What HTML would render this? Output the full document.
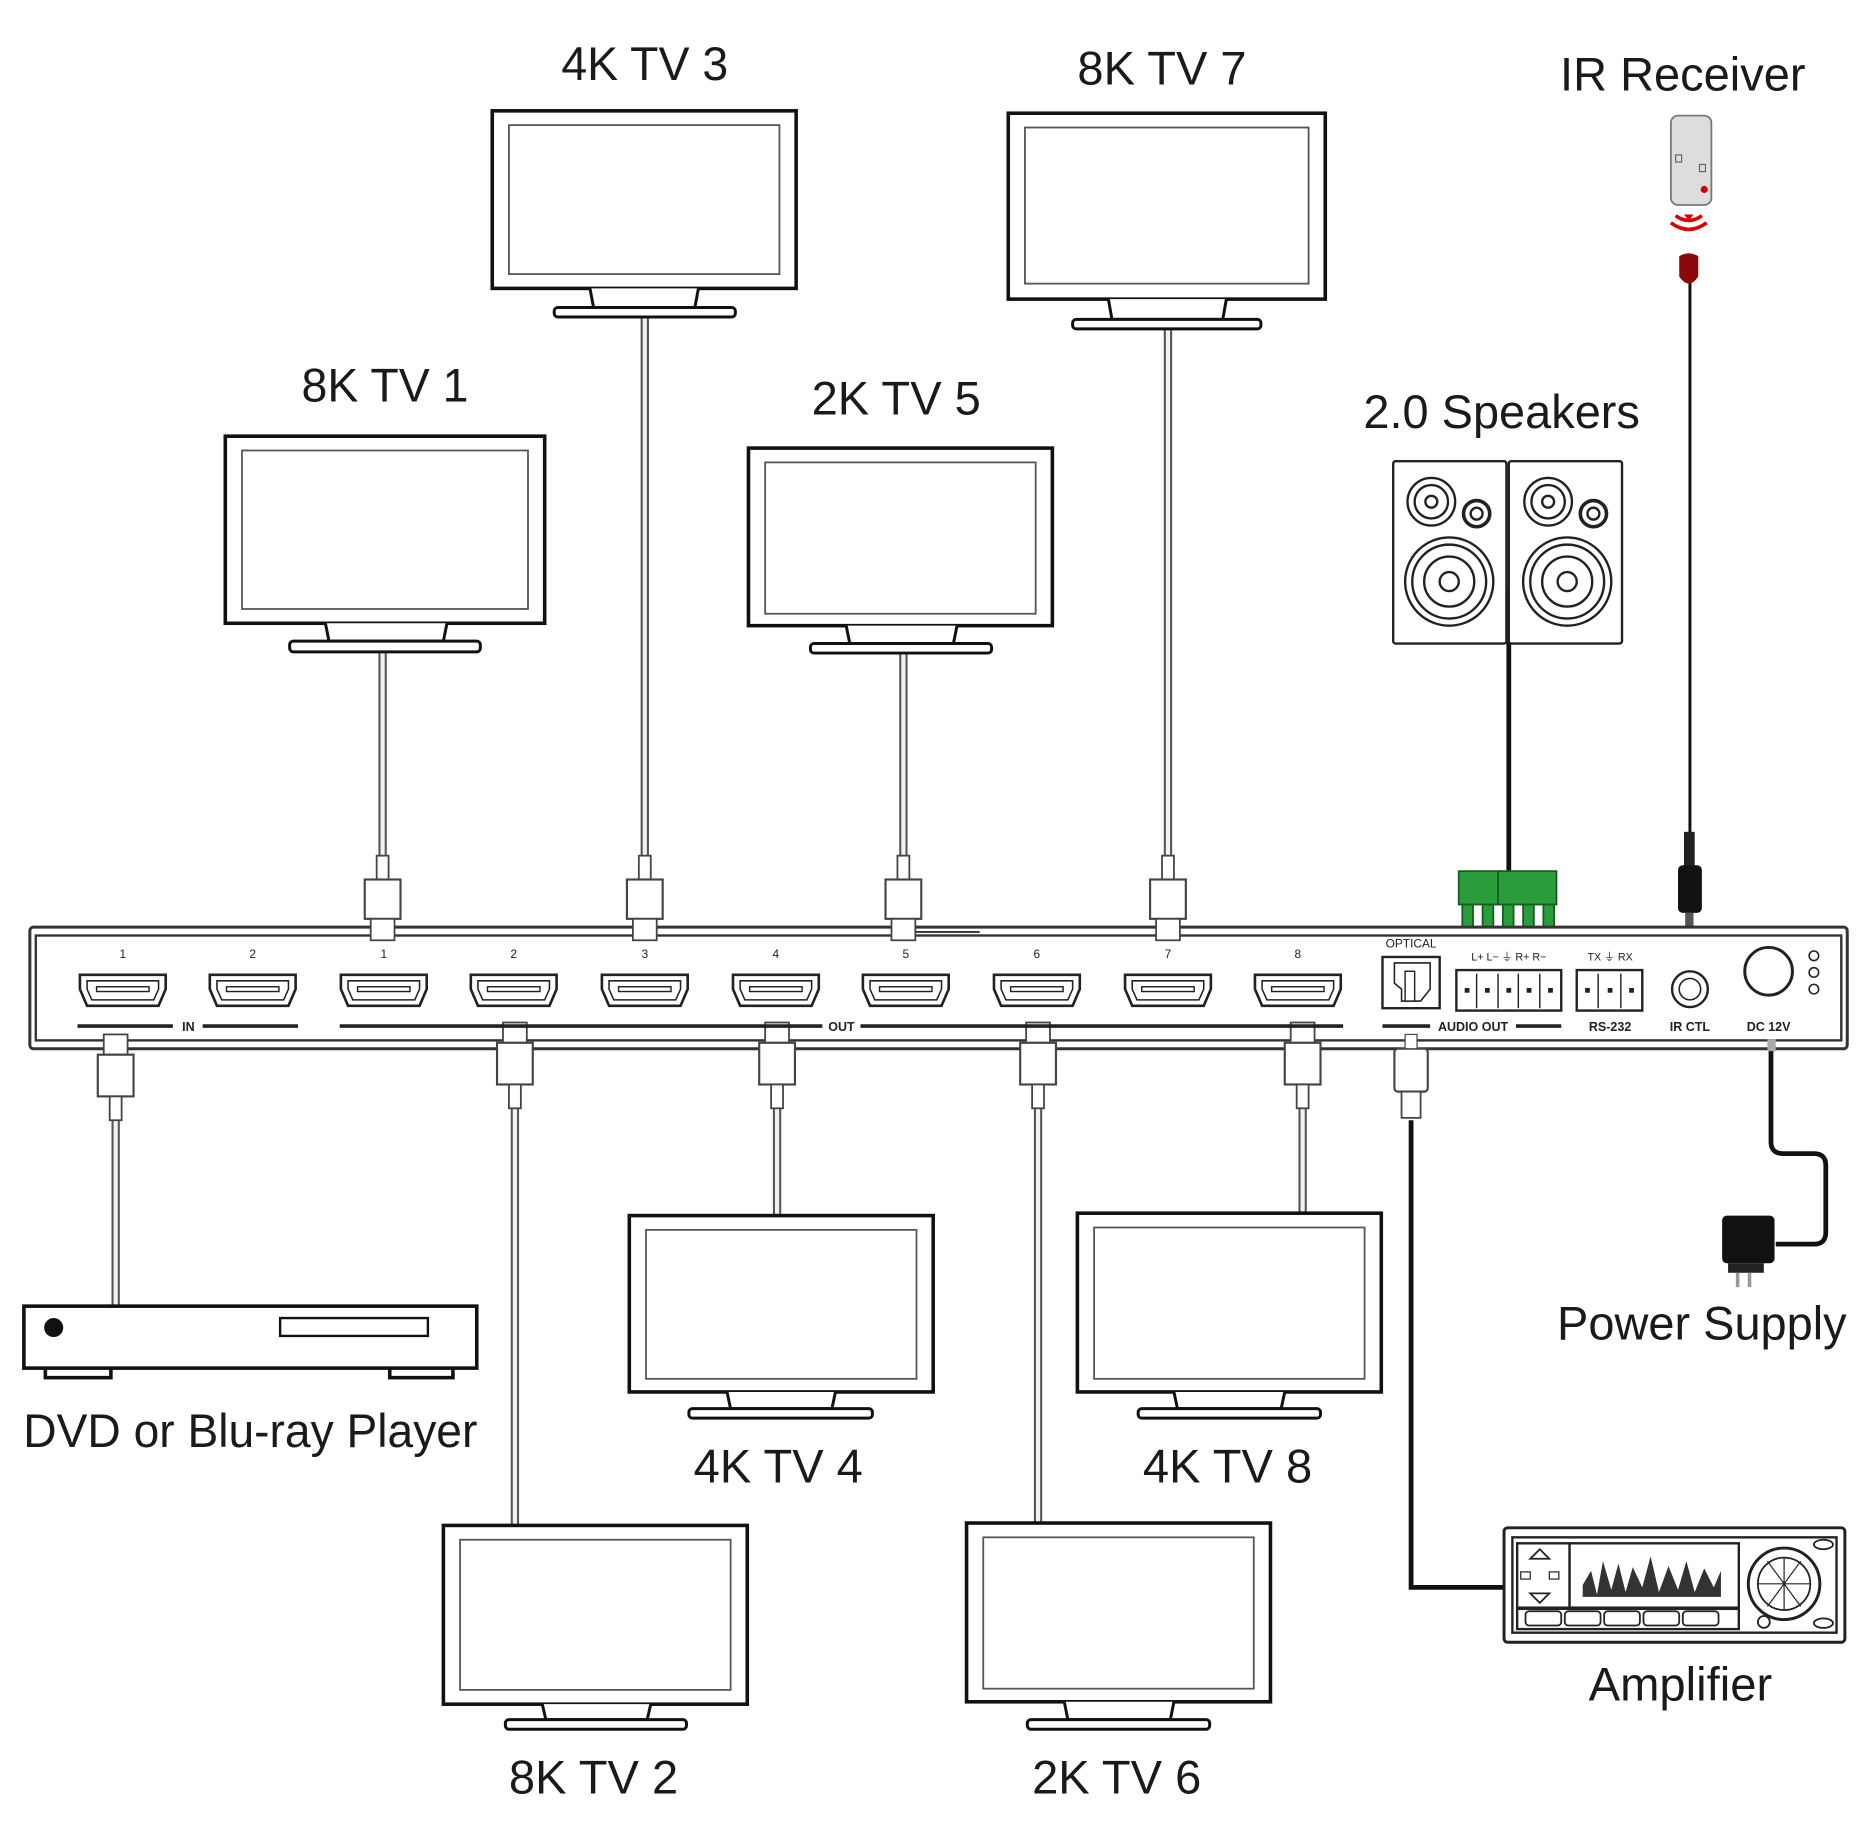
<!DOCTYPE html>
<html><head><meta charset="utf-8"><style>html,body{margin:0;padding:0;background:#fff}svg{display:block}</style></head><body>
<svg width="1864" height="1846" viewBox="0 0 1564 1549" xmlns="http://www.w3.org/2000/svg" font-family="Liberation Sans, Arial, sans-serif">
<defs>
<g id="hdmi"><path d="M-36,-12 L36,-12 L36,0 L30,14 L-30,14 L-36,0 Z" fill="#fff" stroke="#222" stroke-width="2.2"/><path d="M-30,-7 L30,-7 L30,0 L26,9 L-26,9 L-30,0 Z" fill="none" stroke="#222" stroke-width="1.3"/><rect x="-22" y="-2" width="44" height="4" fill="none" stroke="#222" stroke-width="1.2"/></g>
<g id="plugT"><rect x="-5" y="-2" width="10" height="20" fill="#fff" stroke="#444" stroke-width="1.5"/><rect x="-15" y="18" width="30" height="33" fill="#fff" stroke="#444" stroke-width="1.8"/><rect x="-10" y="51" width="20" height="18" fill="#fff" stroke="#444" stroke-width="1.5"/></g>
<g id="plugB"><rect x="-10" y="0" width="20" height="17" fill="#fff" stroke="#444" stroke-width="1.5"/><rect x="-15" y="17" width="30" height="35" fill="#fff" stroke="#444" stroke-width="1.8"/><rect x="-5" y="52" width="10" height="20" fill="#fff" stroke="#444" stroke-width="1.5"/></g>
</defs>
<g fill="none" stroke-linecap="butt">
<!-- light cables -->
<g stroke="#555" stroke-width="7">
<path d="M321,548V720M541,265V720M758,548V720M980,275V720M97,940V1095M432,928V1280M652,928V1020M871,928V1278M1093,928V1018"/>
</g>
<g stroke="#f2f2f2" stroke-width="3.5">
<path d="M321,548V720M541,265V720M758,548V720M980,275V720M97,940V1095M432,928V1280M652,928V1020M871,928V1278M1093,928V1018"/>
</g>
<!-- black cables -->
<path d="M1184,940V1332H1262" stroke="#111" stroke-width="4"/>
<path d="M1266,495V735" stroke="#111" stroke-width="4"/>
<path d="M1418,235V705" stroke="#111" stroke-width="2.5"/>
<path d="M1486,880V958Q1486,968 1496,968H1522Q1532,968 1532,978V1034Q1532,1044 1522,1044H1490" stroke="#111" stroke-width="4"/>
</g>
<!-- TVs -->
<g stroke="#111" fill="#fff">
<g stroke-width="3"><rect x="413" y="93" width="255" height="149"/><rect x="846" y="95" width="266" height="156"/><rect x="189" y="366" width="268" height="157"/><rect x="628" y="376" width="255" height="149"/><rect x="528" y="1020" width="255" height="148"/><rect x="904" y="1018" width="255" height="150"/><rect x="372" y="1280" width="255" height="150"/><rect x="811" y="1278" width="255" height="150"/></g>
<g stroke-width="1.5" stroke="#555"><rect x="427" y="105" width="227" height="125"/><rect x="860" y="107" width="238" height="131"/><rect x="203" y="378" width="240" height="133"/><rect x="642" y="388" width="227" height="127"/><rect x="542" y="1032" width="227" height="125"/><rect x="918" y="1030" width="227" height="127"/><rect x="386" y="1292" width="227" height="126"/><rect x="825" y="1290" width="227" height="127"/></g>
<g stroke-width="2.5"><path d="M495,242L498,258L583,258L586,242"/><rect x="465" y="258" width="152" height="8" rx="3"/>
<path d="M930,251L933,268L1026,268L1029,251"/><rect x="900" y="268" width="158" height="8" rx="3"/>
<path d="M273,523L276,538L372,538L375,523"/><rect x="243" y="538" width="160" height="9" rx="3"/>
<path d="M710,525L713,540L800,540L803,525"/><rect x="680" y="540" width="152" height="8" rx="3"/>
<path d="M610,1168L613,1182L698,1182L701,1168"/><rect x="578" y="1182" width="154" height="8" rx="3"/>
<path d="M985,1168L988,1182L1075,1182L1078,1168"/><rect x="955" y="1182" width="153" height="8" rx="3"/>
<path d="M455,1430L458,1443L543,1443L546,1430"/><rect x="424" y="1443" width="152" height="8" rx="3"/>
<path d="M893,1428L896,1443L982,1443L985,1428"/><rect x="862" y="1443" width="153" height="8" rx="3"/></g>
</g>
<!-- DVD -->
<g stroke="#111" fill="#fff" stroke-width="3"><rect x="38" y="1147" width="55" height="9"/><rect x="327" y="1147" width="53" height="9"/><rect x="20" y="1096" width="380" height="52"/><rect x="235" y="1106" width="124" height="15" stroke-width="2"/></g>
<circle cx="45" cy="1114" r="8" fill="#111"/>
<!-- Amplifier -->
<g stroke="#222" fill="#fff" stroke-width="2.5"><rect x="1262" y="1282" width="286" height="96" rx="3"/><rect x="1269" y="1290" width="272" height="80" stroke-width="2"/><rect x="1273" y="1295" width="44" height="54" stroke-width="2"/><rect x="1317" y="1295" width="142" height="54" stroke-width="2"/><rect x="1273" y="1350" width="186" height="17" stroke-width="2"/>
<circle cx="1497" cy="1329" r="30"/><circle cx="1497" cy="1329" r="22" stroke-width="1.5"/><circle cx="1480" cy="1361" r="5" stroke-width="1.5"/><ellipse cx="1530" cy="1296" rx="8" ry="4" stroke-width="1.5"/><ellipse cx="1530" cy="1362" rx="8" ry="4" stroke-width="1.5"/>
<g stroke-width="1.5"><rect x="1280" y="1352" width="30" height="12" rx="3"/><rect x="1313" y="1352" width="30" height="12" rx="3"/><rect x="1346" y="1352" width="30" height="12" rx="3"/><rect x="1379" y="1352" width="30" height="12" rx="3"/><rect x="1412" y="1352" width="30" height="12" rx="3"/></g></g>
<path d="M1483,1310L1511,1348M1511,1310L1483,1348M1475,1329H1519M1497,1307V1351" stroke="#222" stroke-width="1"/>
<path d="M1328,1330 L1335,1318 L1340,1338 L1345,1310 L1352,1334 L1358,1312 L1364,1336 L1370,1315 L1378,1332 L1385,1306 L1392,1336 L1400,1314 L1408,1334 L1415,1310 L1422,1336 L1430,1316 L1438,1332 L1444,1318 L1444,1340 L1328,1340 Z" fill="#333"/>
<path d="M1292,1300L1300,1308H1284Z M1292,1345L1300,1337H1284Z" fill="none" stroke="#222" stroke-width="1.5"/><rect x="1276" y="1319" width="8" height="6" fill="none" stroke="#222"/><rect x="1300" y="1319" width="8" height="6" fill="none" stroke="#222"/>
<!-- Power supply -->
<rect x="1445" y="1020" width="44" height="40" rx="4" fill="#111"/><rect x="1450" y="1060" width="30" height="8" fill="#222"/><path d="M1458,1068V1080M1468,1068V1080" stroke="#999" stroke-width="3"/>
<!-- Speakers -->
<g stroke="#222" fill="#fff" stroke-width="2"><rect x="1169" y="387" width="95" height="153" rx="2"/><rect x="1266" y="387" width="95" height="153" rx="2"/>
<circle cx="1201" cy="421" r="20"/><circle cx="1201" cy="421" r="14"/><circle cx="1201" cy="421" r="5"/><circle cx="1239" cy="431" r="11" stroke-width="3"/><circle cx="1239" cy="431" r="5"/>
<circle cx="1216" cy="488" r="37"/><circle cx="1216" cy="488" r="31"/><circle cx="1216" cy="488" r="21"/><circle cx="1216" cy="488" r="8"/>
<circle cx="1299" cy="421" r="20"/><circle cx="1299" cy="421" r="14"/><circle cx="1299" cy="421" r="5"/><circle cx="1337" cy="431" r="11" stroke-width="3"/><circle cx="1337" cy="431" r="5"/>
<circle cx="1315" cy="488" r="37"/><circle cx="1315" cy="488" r="31"/><circle cx="1315" cy="488" r="21"/><circle cx="1315" cy="488" r="8"/></g>
<!-- IR receiver -->
<rect x="1402" y="97" width="34" height="75" rx="6" fill="#ddd" stroke="#777" stroke-width="1.5"/><circle cx="1430" cy="159" r="3" fill="#c00"/><rect x="1406" y="130" width="5" height="6" fill="none" stroke="#666"/><rect x="1426" y="138" width="5" height="6" fill="none" stroke="#666"/>
<g fill="none" stroke="#d00" stroke-width="3"><path d="M1406,181Q1417,189 1428,181"/><path d="M1402,187Q1417,198 1432,187"/></g><path d="M1413,180H1421L1417,185Z" fill="#d00"/>
<path d="M1409,215Q1417,210 1425,215V232Q1417,244 1409,232Z" fill="#8a0a0a"/>
<rect x="1413" y="698" width="9" height="30" fill="#222"/><rect x="1408" y="726" width="20" height="40" rx="4" fill="#111"/><rect x="1414" y="766" width="7" height="34" fill="#555"/>
<!-- green terminal plugs -->
<g fill="#2a9d3a" stroke="#155d1e" stroke-width="1.5"><rect x="1224" y="731" width="35" height="28"/><rect x="1257" y="731" width="49" height="28"/>
<rect x="1227" y="759" width="9" height="27"/><rect x="1244" y="759" width="9" height="27"/><rect x="1261" y="759" width="9" height="27"/><rect x="1278" y="759" width="9" height="27"/><rect x="1295" y="759" width="9" height="27"/></g>
<!-- switcher -->
<rect x="25" y="778" width="1525" height="102" rx="3" fill="#fff" stroke="#333" stroke-width="2.5"/>
<rect x="30" y="785" width="1515" height="88" fill="none" stroke="#333" stroke-width="2"/>
<path d="M758,782H822" stroke="#333" stroke-width="1.5"/>
<!-- top plugs -->
<use href="#plugT" x="321" y="720"/><use href="#plugT" x="541" y="720"/><use href="#plugT" x="758" y="720"/><use href="#plugT" x="980" y="720"/>
<use href="#plugB" x="97" y="868"/><use href="#plugB" x="432" y="858"/><use href="#plugB" x="652" y="858"/><use href="#plugB" x="871" y="858"/><use href="#plugB" x="1093" y="858"/>
<rect x="1170" y="880" width="28" height="36" rx="3" fill="#fff" stroke="#444" stroke-width="1.8"/><rect x="1176" y="916" width="16" height="22" fill="#fff" stroke="#444" stroke-width="1.5"/><rect x="1179" y="868" width="10" height="12" fill="#fff" stroke="#444"/>
<rect x="1483" y="872" width="7" height="10" fill="#aaa"/>
<!-- ports -->
<use href="#hdmi" x="103" y="830"/><use href="#hdmi" x="212" y="830"/><use href="#hdmi" x="322" y="830"/><use href="#hdmi" x="431" y="830"/><use href="#hdmi" x="541" y="830"/><use href="#hdmi" x="651" y="830"/><use href="#hdmi" x="760" y="830"/><use href="#hdmi" x="870" y="830"/><use href="#hdmi" x="980" y="830"/><use href="#hdmi" x="1089" y="830"/>
<g font-size="10" text-anchor="middle" fill="#222"><text x="103" y="804">1</text><text x="212" y="804">2</text><text x="322" y="804">1</text><text x="431" y="804">2</text><text x="541" y="804">3</text><text x="651" y="804">4</text><text x="760" y="804">5</text><text x="870" y="804">6</text><text x="980" y="804">7</text><text x="1089" y="804">8</text>
<text x="1184" y="795">OPTICAL</text><text x="1266" y="806" font-size="9">L+ L− ⏚ R+ R−</text><text x="1351" y="806" font-size="9">TX ⏚ RX</text>
<g font-weight="bold" font-size="10.5"><text x="158" y="865">IN</text><text x="706" y="865">OUT</text><text x="1236" y="865">AUDIO OUT</text><text x="1351" y="865">RS-232</text><text x="1418" y="865">IR CTL</text><text x="1484" y="865">DC 12V</text></g></g>
<path d="M65,861H145M170,861H250M285,861H690M722,861H1127M1160,861H1200M1272,861H1310" stroke="#222" stroke-width="3"/>
<g fill="#fff" stroke="#222" stroke-width="2"><rect x="1160" y="803" width="48" height="43"/><path d="M1170,808H1200V830L1192,840H1176V830L1170,825Z" stroke-width="1.3"/><rect x="1179" y="815" width="8" height="25" stroke-width="1.2"/>
<rect x="1222" y="814" width="88" height="34"/><rect x="1323" y="814" width="55" height="34"/>
<circle cx="1418" cy="830" r="15"/><circle cx="1418" cy="830" r="9" stroke-width="1.3"/><circle cx="1484" cy="815" r="20" stroke-width="2.5"/>
<circle cx="1522" cy="802" r="4" stroke-width="1.3"/><circle cx="1522" cy="816" r="4" stroke-width="1.3"/><circle cx="1522" cy="830" r="4" stroke-width="1.3"/></g>
<g stroke="#222" stroke-width="1.2" fill="none"><path d="M1239,817V846M1257,817V846M1274,817V846M1292,817V846M1341,817V846M1360,817V846"/></g>
<g fill="#222"><rect x="1229" y="829" width="4" height="4"/><rect x="1246" y="829" width="4" height="4"/><rect x="1264" y="829" width="4" height="4"/><rect x="1281" y="829" width="4" height="4"/><rect x="1299" y="829" width="4" height="4"/><rect x="1330" y="829" width="4" height="4"/><rect x="1349" y="829" width="4" height="4"/><rect x="1367" y="829" width="4" height="4"/></g>
<!-- labels -->
<g font-size="40" text-anchor="middle" fill="#1a1a1a">
<text x="541" y="67" textLength="140" lengthAdjust="spacingAndGlyphs">4K TV 3</text>
<text x="975" y="71" textLength="142" lengthAdjust="spacingAndGlyphs">8K TV 7</text>
<text x="1412" y="76" textLength="206" lengthAdjust="spacingAndGlyphs">IR Receiver</text>
<text x="323" y="337" textLength="140" lengthAdjust="spacingAndGlyphs">8K TV 1</text>
<text x="752" y="348" textLength="142" lengthAdjust="spacingAndGlyphs">2K TV 5</text>
<text x="1260" y="359" textLength="232" lengthAdjust="spacingAndGlyphs">2.0 Speakers</text>
<text x="1428" y="1124" textLength="243" lengthAdjust="spacingAndGlyphs">Power Supply</text>
<text x="210" y="1214" textLength="381" lengthAdjust="spacingAndGlyphs">DVD or Blu-ray Player</text>
<text x="653" y="1244" textLength="142" lengthAdjust="spacingAndGlyphs">4K TV 4</text>
<text x="1030" y="1244" textLength="142" lengthAdjust="spacingAndGlyphs">4K TV 8</text>
<text x="1410" y="1427" textLength="154" lengthAdjust="spacingAndGlyphs">Amplifier</text>
<text x="498" y="1505" textLength="142" lengthAdjust="spacingAndGlyphs">8K TV 2</text>
<text x="937" y="1505" textLength="142" lengthAdjust="spacingAndGlyphs">2K TV 6</text>
</g>
</svg>
</body></html>
